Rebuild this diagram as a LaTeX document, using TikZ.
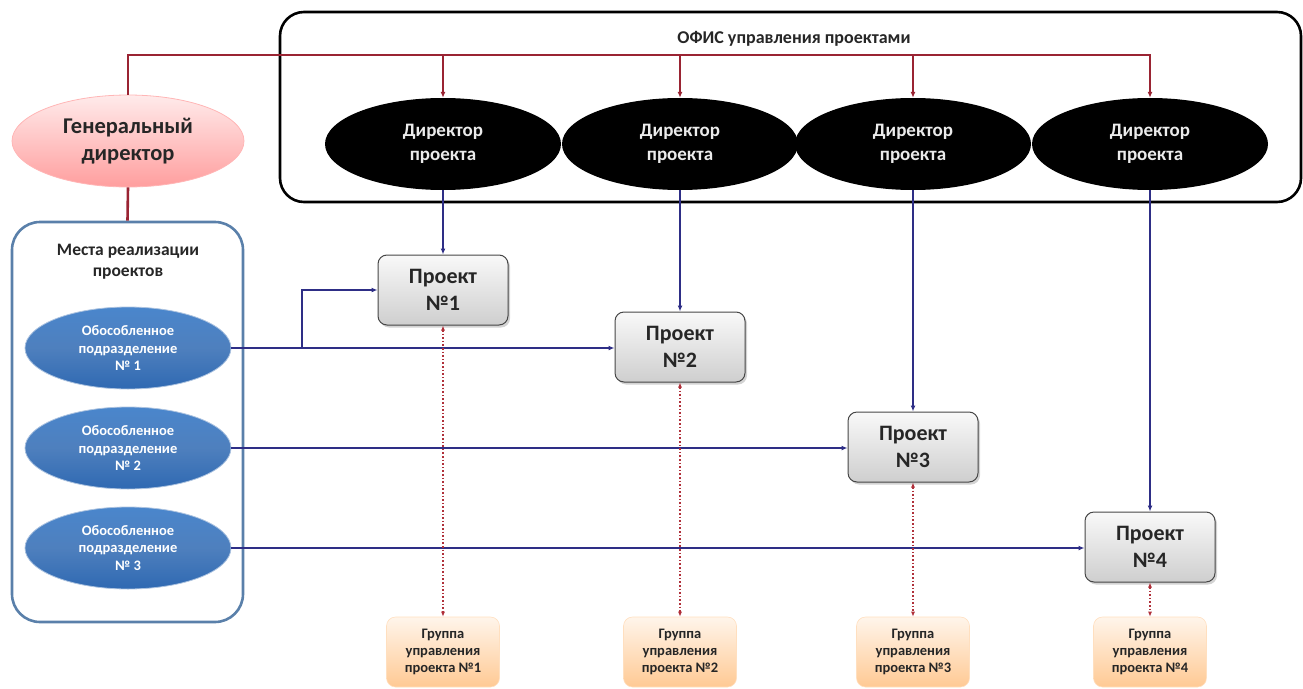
\documentclass[tikz,border=0pt]{standalone}
\usepackage{fontspec}
\setmainfont{Carlito}
\usetikzlibrary{shapes.geometric,arrows.meta,shadows}

\definecolor{busred}{HTML}{9A2433}
\definecolor{linkblue}{HTML}{2E2E86}
\definecolor{dotred}{HTML}{B0303A}
\definecolor{placeframe}{HTML}{5A80AA}
\definecolor{unitblue}{HTML}{2F69B2}
\definecolor{unitlight}{HTML}{4A86CC}
\definecolor{txtdark}{HTML}{262626}

\tikzset{
  officebox/.style={draw=black, line width=2.6pt, rounded corners=24pt,
    minimum width=1021pt, minimum height=190pt},
  placebox/.style={draw=placeframe, line width=2.6pt, rounded corners=28pt,
    minimum width=231pt, minimum height=400pt},
  chiefnode/.style={ellipse, draw=pink!70!red!60, line width=0.8pt,
    top color=red!8, bottom color=red!38, minimum width=232pt, minimum height=92pt,
    inner sep=0pt, align=center, text=txtdark,
    font=\bfseries\fontsize{22.5}{27}\selectfont},
  directornode/.style={ellipse, fill=black, minimum width=236pt, minimum height=92pt,
    inner sep=0pt, align=center, text=white!92!black,
    font=\bfseries\fontsize{19}{23.5}\selectfont},
  unitnode/.style={ellipse, draw=unitblue!40, line width=0.8pt,
    top color=unitlight, bottom color=unitblue, middle color=unitblue!85,
    minimum width=206pt, minimum height=82pt, inner sep=0pt, align=center,
    text=white, font=\bfseries\fontsize{14.5}{17.5}\selectfont},
  projnode/.style={draw=gray!55!black, line width=1pt, rounded corners=9pt,
    top color=gray!5, bottom color=gray!38, minimum width=130pt, minimum height=70pt,
    inner sep=0pt, align=center, text=txtdark,
    font=\bfseries\fontsize{22}{27}\selectfont,
    drop shadow={shadow xshift=2pt, shadow yshift=-2.5pt, opacity=0.35}},
  groupnode/.style={draw=orange!25, line width=0.6pt, rounded corners=9pt,
    top color=orange!8, bottom color=orange!42, minimum width=113pt, minimum height=70pt,
    inner sep=0pt, align=center, text=txtdark,
    font=\bfseries\fontsize{14.5}{17}\selectfont},
  busline/.style={draw=busred, line width=2.6pt},
  linkline/.style={draw=linkblue, line width=1.8pt},
  dotline/.style={draw=dotred, line width=1.6pt, dotted},
  tip/.style={-{Latex[length=6pt,width=5pt]}},
  dtip/.style={{Latex[length=5pt,width=4pt]}-{Latex[length=5pt,width=4pt]}}
}

\begin{document}
\begin{tikzpicture}[x=1pt,y=-1pt]
\useasboundingbox (0,0) rectangle (1303,688);

% project office frame and its title
\node[officebox] (office) at (790.5,107) {};
\node[font=\bfseries\fontsize{18}{21}\selectfont, text=txtdark] (officetitle) at (794,39)
  {ОФИС управления проектами};

% general director and project directors
\node[chiefnode] (gd) at (128,141) {Генеральный\\директор};
\node[directornode] (d1) at (443,144) {Директор\\проекта};
\node[directornode] (d2) at (680,144) {Директор\\проекта};
\node[directornode] (d3) at (913,144) {Директор\\проекта};
\node[directornode] (d4) at (1150,144) {Директор\\проекта};

% places of project realisation
\node[placebox] (places) at (127.5,422) {};
\node[font=\bfseries\fontsize{17.5}{21}\selectfont, text=txtdark, align=center] (placestitle)
  at (128,262) {Места реализации\\проектов};
\node[unitnode] (u1) at (128,348) {Обособленное\\подразделение\\№ 1};
\node[unitnode] (u2) at (128,448) {Обособленное\\подразделение\\№ 2};
\node[unitnode] (u3) at (128,548) {Обособленное\\подразделение\\№ 3};

% projects
\node[projnode] (p1) at (443,290) {Проект\\№1};
\node[projnode] (p2) at (680,347) {Проект\\№2};
\node[projnode] (p3) at (913,447) {Проект\\№3};
\node[projnode] (p4) at (1150,547) {Проект\\№4};

% project management groups
\node[groupnode] (g1) at (443,652) {Группа\\управления\\проекта №1};
\node[groupnode] (g2) at (680,652) {Группа\\управления\\проекта №2};
\node[groupnode] (g3) at (913,652) {Группа\\управления\\проекта №3};
\node[groupnode] (g4) at (1150,652) {Группа\\управления\\проекта №4};

% red subordination bus
\coordinate (bus) at (128,55);
\draw[busline] (gd.south) -- (places.north);
\draw[busline, tip] (gd.north) -- (bus) -| (d4.north);
\foreach \d in {d1,d2,d3}
  \draw[busline, tip] (\d.north |- bus) -- (\d.north);

% directors to projects
\foreach \d/\p in {d1/p1,d2/p2,d3/p3,d4/p4}
  \draw[linkline, tip] (\d.south) -- (\d.south |- \p.north);

% subdivisions to projects
\coordinate (branch) at (302,348);
\draw[linkline, tip] (u1.east) -- (u1.east -| p2.west);
\draw[linkline, tip] (branch) |- (p1.west);
\draw[linkline, tip] (u2.east) -- (u2.east -| p3.west);
\draw[linkline, tip] (u3.east) -- (u3.east -| p4.west);

% projects to management groups
\foreach \p/\g in {p1/g1,p2/g2,p3/g3,p4/g4}
  \draw[dotline, dtip] (\p.south) -- (\g.north);
\end{tikzpicture}
\end{document}
